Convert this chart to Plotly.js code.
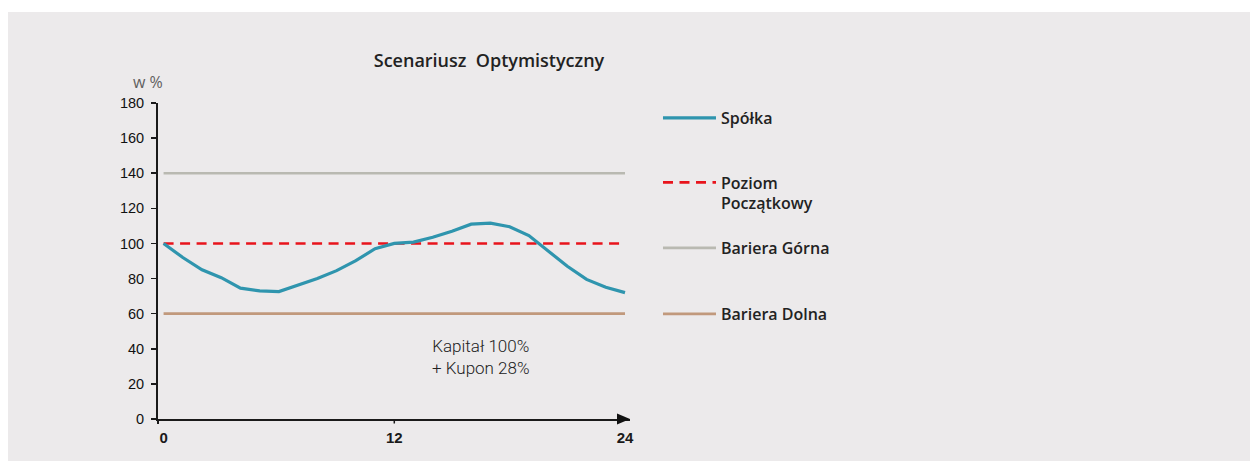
<!DOCTYPE html>
<html>
<head>
<meta charset="utf-8">
<script src="https://cdn.plot.ly/plotly-3.0.1.min.js"></script>
<style>
  html, body { margin: 0; padding: 0; background: #ffffff; }
  #chart { position: absolute; left: 8px; top: 12px; width: 1242px; height: 449px; }
</style>
</head>
<body>
<div id="chart"></div>
<script>
// ---- data ----
const months = [0,1,2,3,4,5,6,7,8,9,10,11,12,13,14,15,16,17,18,19,20,21,22,23,24];
const spolka = [100,92,85,80.5,74.5,73,72.6,76.5,80,84.5,90.2,97,100,100.8,103.5,107,111,111.6,109.5,104.5,95.5,87,79.5,75,72];
const periodStartEnd = [0, 24];
const poziomPoczatkowy = [100, 100];
const barieraGorna = [140, 140];
const barieraDolna = [60, 60];
const yTicks = [0,20,40,60,80,100,120,140,160,180];
const xTicks = [0,12,24];
const seriesNames = ['Spółka', 'Poziom<br>Początkowy', 'Bariera Górna', 'Bariera Dolna'];
const titleText = 'Scenariusz\u00a0 Optymistyczny';
const unitLabel = 'w %';
const noteText = 'Kapitał 100%<br>+ Kupon 28%';
const notePos = {x: 16.5, y: 35.5};

const legendFont = {family: 'Open Sans', size: 16, color: '#222222', weight: 600};

const traces = [
  {x: months, y: spolka, name: seriesNames[0], type: 'scatter', mode: 'lines',
   line: {color: '#2f95ae', width: 3.2}, legend: 'legend'},
  {x: periodStartEnd, y: poziomPoczatkowy, name: seriesNames[1], type: 'scatter', mode: 'lines',
   line: {color: '#e8141c', width: 2.6, dash: '10px,6.5px'}, legend: 'legend2'},
  {x: periodStartEnd, y: barieraGorna, name: seriesNames[2], type: 'scatter', mode: 'lines',
   line: {color: '#b9b9b1', width: 2.6}, legend: 'legend3'},
  {x: periodStartEnd, y: barieraDolna, name: seriesNames[3], type: 'scatter', mode: 'lines',
   line: {color: '#c1997c', width: 2.6}, legend: 'legend4'}
];
// draw order: barriers first, then level, then company line on top
const ordered = [traces[2], traces[3], traces[1], traces[0]];

function legendAt(y, extra) {
  return Object.assign({
    x: 1.0593, xanchor: 'left', y: y, yanchor: 'middle',
    bgcolor: 'rgba(0,0,0,0)', borderwidth: 0, font: legendFont,
    itemwidth: 53, itemclick: false, itemdoubleclick: false
  }, extra || {});
}

const layout = {
  width: 1242, height: 449,
  paper_bgcolor: '#eceaeb', plot_bgcolor: '#eceaeb',
  margin: {l: 150, r: 620, t: 91, b: 42, autoexpand: false},
  showlegend: true,
  title: {text: titleText, x: 481/1242, xref: 'container', xanchor: 'center',
          y: 1 - 49/449, yref: 'container', yanchor: 'middle',
          font: {family: 'Open Sans', size: 18, color: '#222222', weight: 600}},
  xaxis: {range: [-0.29, 24.26], showgrid: false, zeroline: false,
          showline: true, linecolor: '#1a1a1a', linewidth: 2,
          ticks: '', tickvals: xTicks, ticktext: xTicks.map(String),
          ticklabelstandoff: 4,
          tickfont: {family: 'Liberation Sans', size: 15, color: '#1a1a1a', weight: 'bold'},
          fixedrange: true},
  yaxis: {range: [0, 180], showgrid: false, zeroline: false,
          showline: true, linecolor: '#1a1a1a', linewidth: 2,
          ticks: 'outside', ticklen: 5, tickwidth: 1.5, tickcolor: '#1a1a1a',
          tickvals: yTicks, ticktext: yTicks.map(String),
          ticklabelstandoff: 4,
          tickfont: {family: 'Liberation Sans', size: 14.5, color: '#111111'},
          fixedrange: true},
  legend: legendAt(0.9525),
  legend2: legendAt(0.7152, {valign: 'top'}),
  legend3: legendAt(0.5411),
  legend4: legendAt(0.3323),
  shapes: [
    {type: 'path', xref: 'paper', yref: 'paper', xsizemode: 'pixel', ysizemode: 'pixel',
     xanchor: 1, yanchor: 0, path: 'M-13,-5.5 L0,0 L-13,5.5 Z',
     fillcolor: '#111111', line: {width: 0}},
    {type: 'line', xref: 'x', yref: 'paper', ysizemode: 'pixel', yanchor: 0,
     x0: 12, x1: 12, y0: 0, y1: -4.5, line: {color: '#1a1a1a', width: 1.5}},
    {type: 'line', xref: 'paper', yref: 'paper', ysizemode: 'pixel', yanchor: 0,
     x0: 0, x1: 0, y0: 0, y1: -5, line: {color: '#1a1a1a', width: 2}}
  ],
  annotations: [
    {text: unitLabel, xref: 'paper', yref: 'paper', x: -0.0212, y: 1.0665,
     xanchor: 'center', yanchor: 'middle', showarrow: false,
     font: {family: 'Open Sans', size: 16, color: '#606060'}},
    {text: noteText, xref: 'x', yref: 'y', x: notePos.x, y: notePos.y,
     xanchor: 'center', yanchor: 'middle', showarrow: false, align: 'center',
     font: {family: 'Roboto', size: 17, color: '#222222', weight: 300}}
  ]
};

Plotly.newPlot('chart', ordered, layout, {displayModeBar: false, staticPlot: true});
</script>
</body>
</html>
